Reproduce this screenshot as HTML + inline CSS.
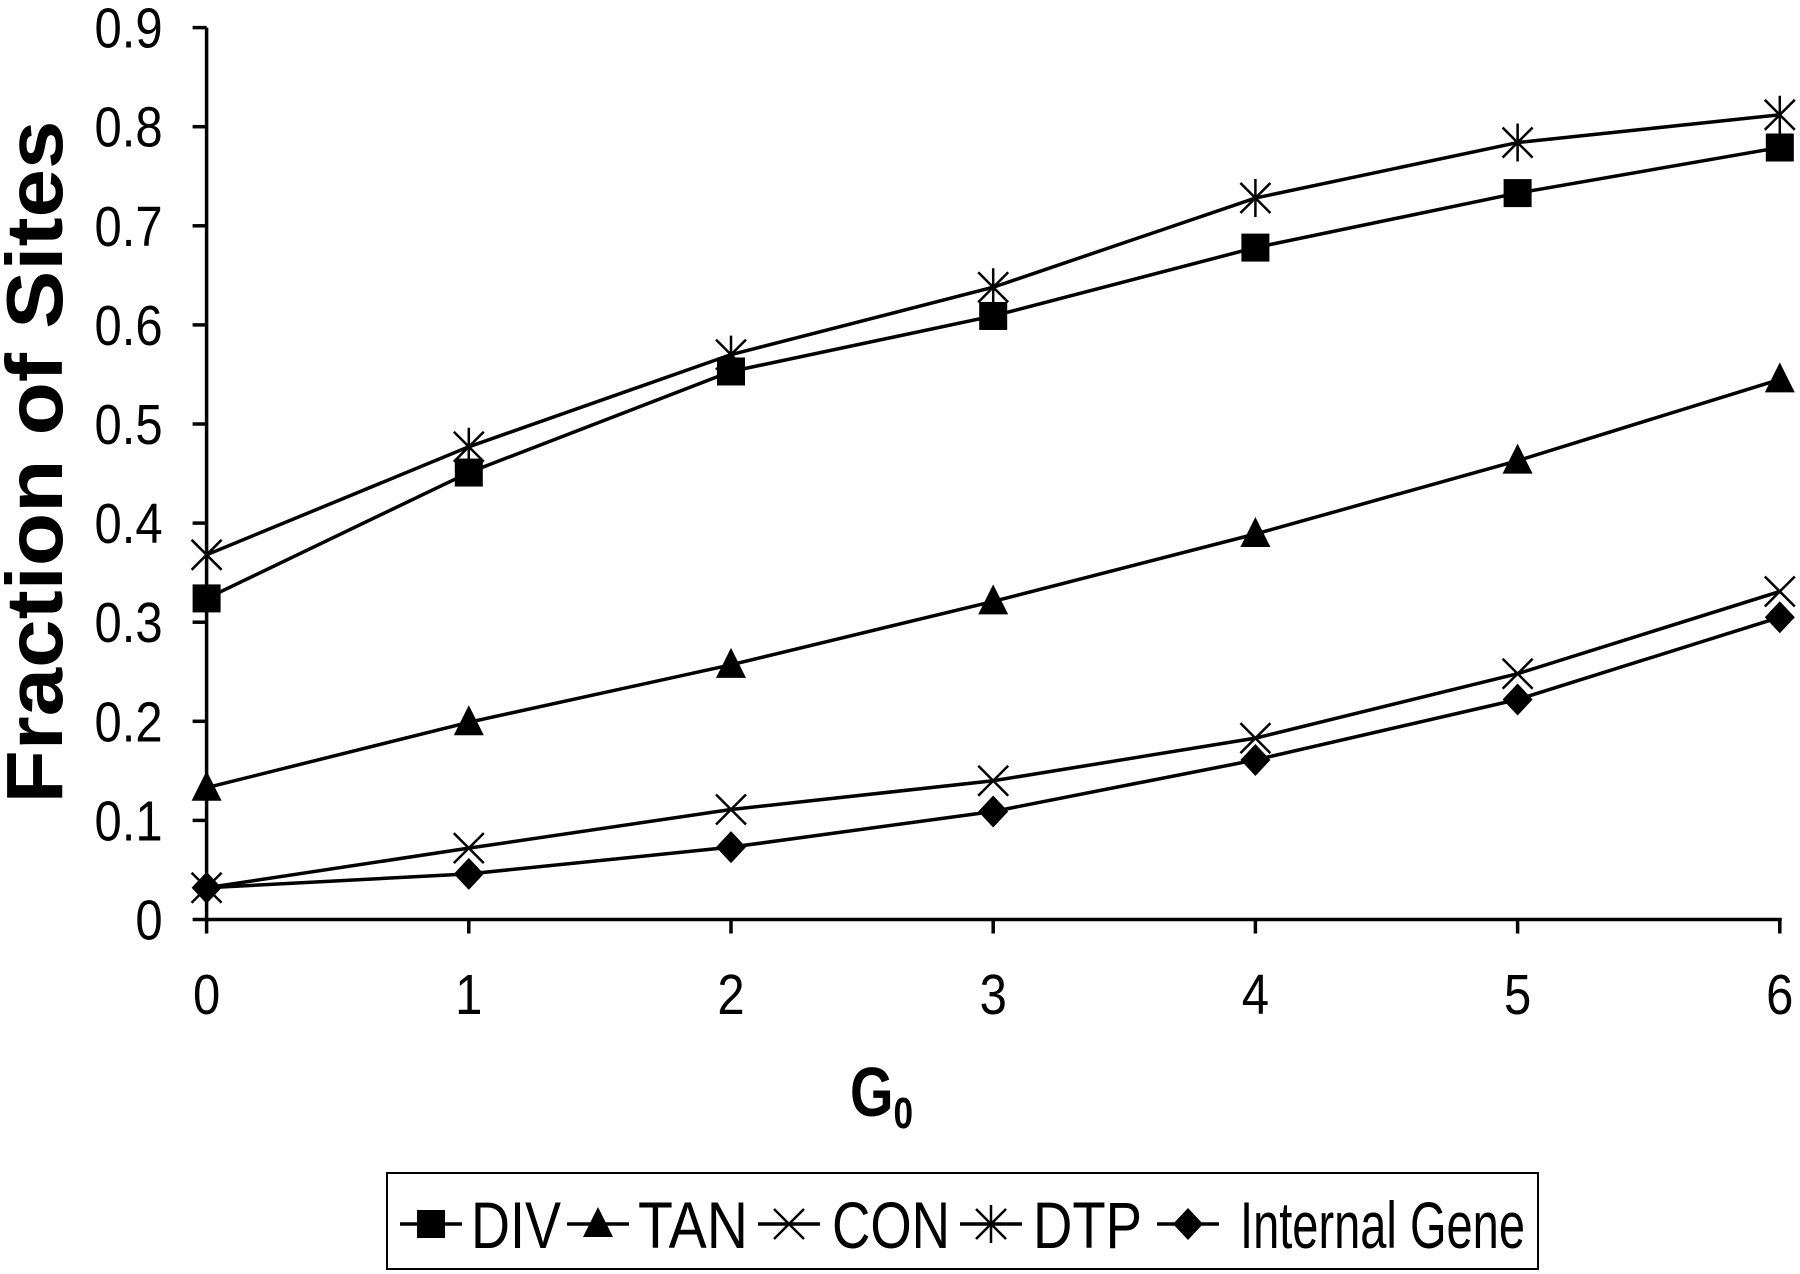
<!DOCTYPE html>
<html><head><meta charset="utf-8"><style>
body{margin:0;background:#fff}
svg{display:block}
text{font-family:"Liberation Sans",sans-serif;fill:#000}
</style></head><body>
<svg id="chart" width="1800" height="1274" viewBox="0 0 1800 1274" xmlns="http://www.w3.org/2000/svg">
<g id="axes"></g>
<g id="series"></g>
<text transform="translate(62,462) rotate(-90)" text-anchor="middle" font-weight="bold" font-size="80" textLength="683" lengthAdjust="spacingAndGlyphs">Fraction of Sites</text>
<g transform="translate(850,1116) scale(0.8,1)"><text x="0" y="0" font-weight="bold" font-size="70">G<tspan font-size="44" dy="12">0</tspan></text></g>
<rect x="387" y="1173" width="1151" height="96" fill="#fff" stroke="#000" stroke-width="2"/>
<g id="legend"></g>
</svg>
<script>
const categories=[0,1,2,3,4,5,6];
const yTicks=[0,0.1,0.2,0.3,0.4,0.5,0.6,0.7,0.8,0.9];
const yTickLabels=["0","0.1","0.2","0.3","0.4","0.5","0.6","0.7","0.8","0.9"];
const divValues=[0.324,0.451,0.553,0.609,0.678,0.733,0.779];
const tanValues=[0.133,0.199,0.257,0.321,0.389,0.463,0.545];
const conValues=[0.032,0.072,0.111,0.140,0.183,0.248,0.331];
const dtpValues=[0.368,0.477,0.570,0.638,0.728,0.784,0.812];
const internalValues=[0.032,0.046,0.073,0.109,0.161,0.222,0.305];
const seriesNames=["DIV","TAN","CON","DTP","Internal Gene"];

const NS="http://www.w3.org/2000/svg";
const X0=206.6,XSTEP=262.2,Y0=919.5,YSCALE=991;
function xs(v){return X0+v*XSTEP;}
function ys(v){return Y0-v*YSCALE;}
function mk(tag,attrs,parent){const e=document.createElementNS(NS,tag);for(const k in attrs)e.setAttribute(k,attrs[k]);parent.appendChild(e);return e;}
const axes=document.getElementById('axes');
let e;
e=mk('line',{x1:X0,y1:ys(0.9),x2:X0,y2:Y0,stroke:'#000','stroke-width':3.5},axes);


e=mk('line',{x1:X0,y1:Y0,x2:xs(6)+2,y2:Y0,stroke:'#000','stroke-width':3.5},axes);


yTicks.forEach((t,i)=>{
  e=mk('line',{x1:X0-14,y1:ys(t),x2:X0,y2:ys(t),stroke:'#000','stroke-width':3.5},axes);
  
  
  e=mk('text',{transform:`translate(${X0-44},${ys(t)+20}) scale(0.86,1)`,'text-anchor':'end','font-size':57},axes);
  e.textContent=yTickLabels[i];
  
  
});
categories.forEach(c=>{
  e=mk('line',{x1:xs(c),y1:Y0,x2:xs(c),y2:Y0+14,stroke:'#000','stroke-width':3.5},axes);
  
  
  e=mk('text',{transform:`translate(${xs(c)},1014) scale(0.86,1)`,'text-anchor':'middle','font-size':57},axes);
  e.textContent=String(c);
  
  
});
function marker(type,x,y,g){
  if(type==='square')return mk('rect',{x:x-14,y:y-14,width:28,height:28,fill:'#000'},g);
  if(type==='triangle')return mk('polygon',{points:`${x},${y-17} ${x-15},${y+13} ${x+15},${y+13}`,fill:'#000'},g);
  if(type==='diamond')return mk('polygon',{points:`${x},${y-16} ${x+15},${y} ${x},${y+16} ${x-15},${y}`,fill:'#000'},g);
  if(type==='x'){return mk('path',{d:`M${x-15},${y-15}L${x+15},${y+15}M${x-15},${y+15}L${x+15},${y-15}`,stroke:'#000','stroke-width':2.5,fill:'none'},g);}
  if(type==='star'){return mk('path',{d:`M${x-15},${y-15}L${x+15},${y+15}M${x-15},${y+15}L${x+15},${y-15}M${x},${y-19}L${x},${y+19}`,stroke:'#000','stroke-width':2.5,fill:'none'},g);}
}
const seriesData=[divValues,tanValues,conValues,dtpValues,internalValues];
const markers=['square','triangle','x','star','diamond'];
const keys=['div','tan','con','dtp','internal-gene'];
const sg=document.getElementById('series');
seriesData.forEach((vals,si)=>{
  const g=mk('g',{},sg);
  
  
  const p=mk('polyline',{points:vals.map((v,i)=>xs(categories[i])+','+ys(v)).join(' '),fill:'none',stroke:'#000','stroke-width':3.5},g);
  
  
  vals.forEach((v,i)=>{
    const m=marker(markers[si],xs(categories[i]),ys(v),g);
    
    
  });
});
const lg=document.getElementById('legend');
const legendLineStart=[400,567,758,960,1157];
const legendTextStart=[471,638,832,1033,1240];
const legendTextWidth=[90,110,118,109,285];
const LY=1224;
seriesNames.forEach((n,i)=>{
  const g=mk('g',{},lg);
  
  
  const x=legendLineStart[i];
  mk('line',{x1:x,y1:LY,x2:x+62,y2:LY,stroke:'#000','stroke-width':3.5},g);
  marker(markers[i],x+31,LY,g);
  const t=mk('text',{x:legendTextStart[i],y:LY+24,'font-size':66,textLength:legendTextWidth[i],lengthAdjust:'spacingAndGlyphs'},g);
  t.textContent=n;
});
</script>
</body></html>
